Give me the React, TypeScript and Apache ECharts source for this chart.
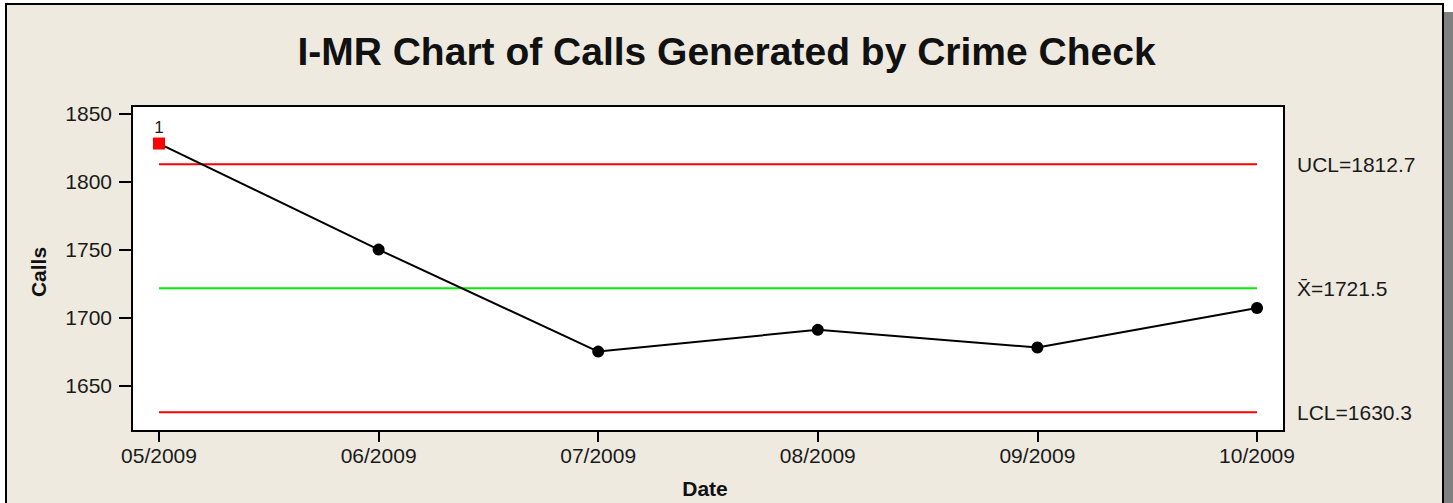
import React, { useEffect, useRef } from "react";
import * as echarts from "echarts";

const dates = ["05/2009", "06/2009", "07/2009", "08/2009", "09/2009", "10/2009"];
const calls = [1828, 1750, 1675, 1691, 1678, 1707];
const ucl = 1812.7;
const mean = 1721.5;
const lcl = 1630.3;
const yTicks = [1650, 1700, 1750, 1800, 1850];
const xTicks = [0, 1, 2, 3, 4, 5];

const FONT = "'Liberation Sans', Arial, sans-serif";

export default function App() {
  const ref = useRef<HTMLDivElement>(null);
  useEffect(() => {
    if (!ref.current) return;
    const chart = echarts.init(ref.current, undefined, { renderer: "svg" });
    const last = dates.length - 1;
    const limitSeries = (name: string, value: number, color: string, label: string) => ({
      type: "line",
      name,
      data: [[0, value], [last, value]],
      symbol: "none",
      lineStyle: { color, width: 2 },
      silent: true,
      z: 2,
      endLabel: {
        show: true,
        formatter: label,
        distance: 40,
        color: "#1a1a1a",
        fontSize: 21,
        fontFamily: FONT,
      },
    });
    chart.setOption({
      animation: false,
      backgroundColor: "#ffffff",
      textStyle: { fontFamily: FONT },
      title: {
        text: "I-MR Chart of Calls Generated by Crime Check",
        left: "center",
        top: 27,
        textStyle: { fontSize: 39, fontWeight: "bold", color: "#111", fontFamily: FONT },
      },
      graphic: [
        {
          type: "rect",
          z: -10,
          shape: { x: 1444, y: 12, width: 12, height: 520 },
          style: { fill: "#808080" },
        },
        {
          type: "rect",
          z: -9,
          shape: { x: 6, y: 4, width: 1437, height: 560 },
          style: { fill: "#EEEAE0", stroke: "#000", lineWidth: 2 },
        },
        {
          type: "text",
          x: 38,
          y: 272,
          rotation: Math.PI / 2,
          style: {
            text: "Calls",
            fill: "#111",
            font: `bold 21px ${FONT}`,
            align: "center",
            verticalAlign: "middle",
          },
        },
        {
          type: "text",
          x: 705,
          y: 488,
          style: {
            text: "Date",
            fill: "#111",
            font: `bold 21px ${FONT}`,
            align: "center",
            verticalAlign: "middle",
          },
        },
      ],
      grid: {
        show: true,
        left: 132,
        right: 169,
        top: 106,
        bottom: 72,
        backgroundColor: "#ffffff",
        borderColor: "#000",
        borderWidth: 2,
      },
      xAxis: {
        type: "value",
        min: -0.123,
        max: 5.123,
        splitLine: { show: false },
        axisLine: { show: false, onZero: false },
        axisTick: {
          show: true,
          customValues: xTicks,
          length: 11,
          lineStyle: { color: "#000", width: 2 },
        },
        axisLabel: {
          customValues: xTicks,
          formatter: (v: number) => dates[Math.round(v)] ?? "",
          margin: 14,
          fontSize: 21,
          color: "#1a1a1a",
          fontFamily: FONT,
        },
      },
      yAxis: {
        type: "value",
        min: 1616.6,
        max: 1855.6,
        splitLine: { show: false },
        axisLine: { show: false, onZero: false },
        axisTick: {
          show: true,
          customValues: yTicks,
          length: 13,
          lineStyle: { color: "#000", width: 2 },
        },
        axisLabel: {
          customValues: yTicks,
          formatter: (v: number) => String(v),
          margin: 20,
          fontSize: 21,
          color: "#1a1a1a",
          fontFamily: FONT,
        },
      },
      series: [
        limitSeries("UCL", ucl, "#ff0000", `UCL=${ucl}`),
        limitSeries("Mean", mean, "#00ee00", `X\u0304=${mean}`),
        limitSeries("LCL", lcl, "#ff0000", `LCL=${lcl}`),
        {
          type: "line",
          name: "Calls",
          z: 5,
          data: calls.map((v, i) => {
            if (v > ucl || v < lcl) {
              return {
                value: [i, v],
                symbol: "rect",
                symbolSize: 12,
                itemStyle: { color: "#ff0000" },
                label: {
                  show: true,
                  formatter: "1",
                  position: "top",
                  distance: 2,
                  fontSize: 17,
                  color: "#1a1a1a",
                  fontFamily: FONT,
                },
              };
            }
            return { value: [i, v] };
          }),
          symbol: "circle",
          symbolSize: 12,
          showSymbol: true,
          itemStyle: { color: "#000" },
          lineStyle: { color: "#000", width: 2 },
        },
      ],
    });
    return () => chart.dispose();
  }, []);
  return (
    <div
      ref={ref}
      style={{ position: "absolute", left: 0, top: 0, width: 1453, height: 503 }}
    />
  );
}
